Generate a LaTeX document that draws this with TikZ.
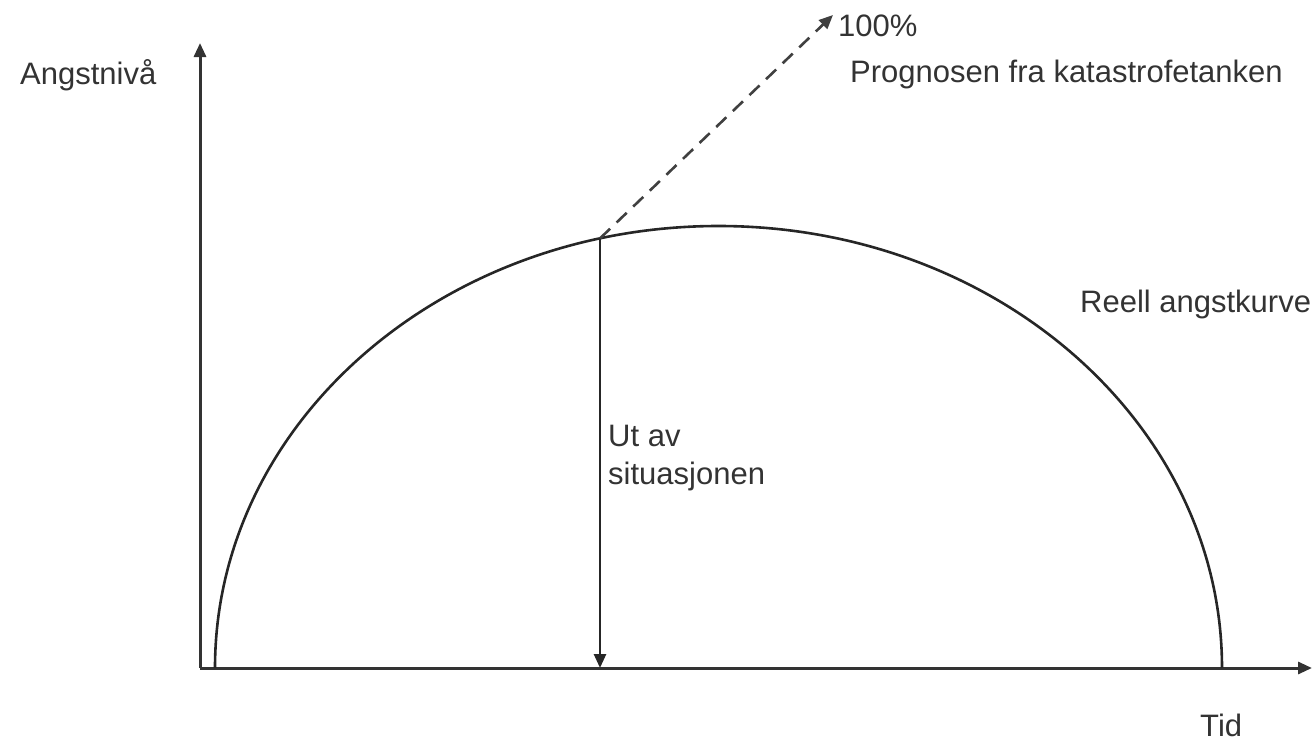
\documentclass[tikz,border=0pt]{standalone}
\usepackage{fontspec}
\setmainfont{Liberation Sans}
\usetikzlibrary{arrows.meta}
\begin{document}
\begin{tikzpicture}[x=1pt,y=-1pt,
  axis/.style={line width=3pt,draw=black!80,-{Triangle[length=14pt,width=12pt]}},
  curveline/.style={line width=2.6pt,draw=black!85},
  arrowline/.style={line width=2.6pt,draw=black!85,-{Triangle[length=14pt,width=12pt]}},
  dashline/.style={line width=2.6pt,draw=black!75,dash pattern=on 14pt off 9pt,-{Triangle[length=14pt,width=12pt]}},
  lbl/.style={inner sep=0pt,font=\fontsize{31}{36}\selectfont,text=black!80,align=left}]
\useasboundingbox (0,0) rectangle (1315,744);
\coordinate (O) at (200,668);
\coordinate (ytop) at (200,43);
\coordinate (xend) at (1312,668);
\coordinate (cstart) at (215,668);
\coordinate (peak) at (600,238.4);
\coordinate (base) at (600,668);
\coordinate (progtip) at (833,15);
\draw[axis] (O) -- (ytop);
\draw[axis] (O) -- (xend);
\draw[curveline] (cstart) arc[start angle=180,end angle=360,x radius=503.5,y radius=442];
\draw[arrowline] (peak) -- (base);
\draw[dashline] (peak) -- (progtip);
\node[lbl,anchor=west] (ylab) at (20,75) {Angstnivå};
\node[lbl,anchor=west] (pct) at (838,26) {100\%};
\node[lbl,anchor=west] (prog) at (850,74) {Prognosen fra katastrofetanken};
\node[lbl,anchor=west] (reell) at (1080,304) {Reell angstkurve};
\node[lbl,anchor=north west] (ut) at (608,425) {Ut av\\[2pt]situasjonen};
\node[lbl,anchor=west] (tid) at (1200,725) {Tid};
\end{tikzpicture}
\end{document}
